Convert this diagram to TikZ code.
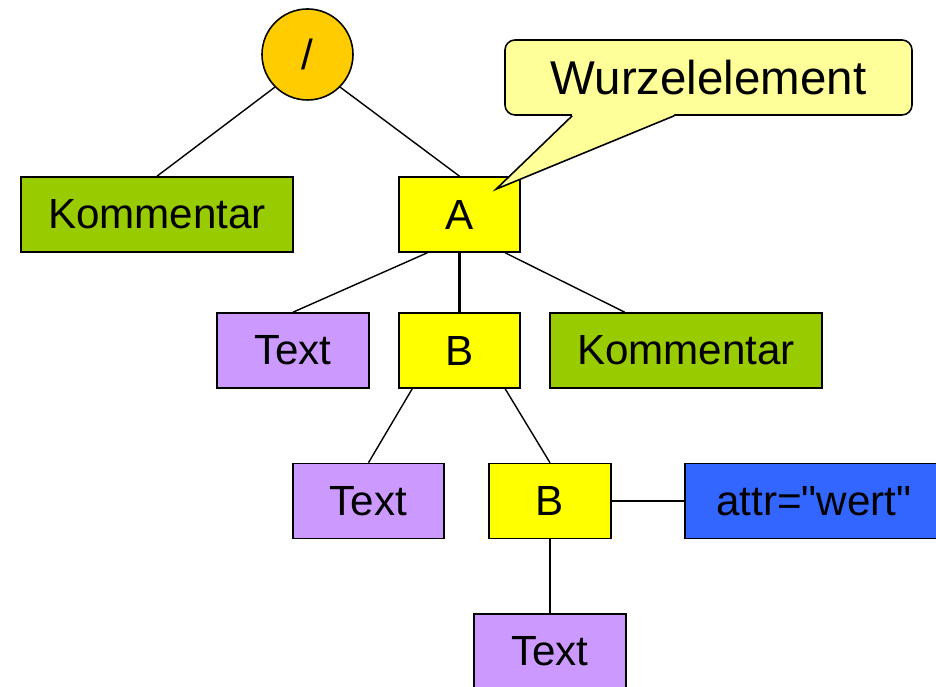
\documentclass[tikz,border=0pt]{standalone}
\usepackage{fontspec}
\setmainfont{Liberation Sans}[Ligatures=TeXOff]
\usetikzlibrary{calc}
\definecolor{rootorange}{HTML}{FFCC00}
\definecolor{komgreen}{HTML}{99CC00}
\definecolor{elyellow}{HTML}{FFFF00}
\definecolor{textpurple}{HTML}{CC99FF}
\definecolor{attrblue}{HTML}{3366FF}
\definecolor{calloutyellow}{HTML}{FFFF99}
\begin{document}
\begin{tikzpicture}[box/.style={draw=black,line width=0.9pt,fill=#1,minimum height=1.5cm,inner sep=0pt,font=\fontsize{24}{28}\selectfont},
  conn/.style={draw=black,line width=0.8pt}]
\useasboundingbox (0,0) rectangle (18.72,13.74);
\node[circle,draw=black,line width=0.9pt,fill=rootorange,minimum size=1.82cm,inner sep=0pt,font=\fontsize{24}{28}\selectfont] (root) at (6.15,12.65) {/};
\node[box=komgreen,minimum width=5.44cm] (kom1) at (3.14,9.45) {Kommentar};
\node[box=elyellow,minimum width=2.43cm] (elA) at (9.19,9.45) {A};
\node[box=textpurple,minimum width=3.03cm] (text1) at (5.86,6.73) {Text};
\node[box=elyellow,minimum width=2.43cm] (elB1) at (9.19,6.73) {B};
\node[box=komgreen,minimum width=5.44cm] (kom2) at (13.72,6.73) {Kommentar};
\node[box=textpurple,minimum width=3.03cm] (text2) at (7.37,3.72) {Text};
\node[box=elyellow,minimum width=2.43cm] (elB2) at (11,3.72) {B};
\node[box=attrblue,minimum width=5.16cm] (attr) at (16.28,3.72) {attr="wert"};
\node[box=textpurple,minimum width=3.03cm] (text3) at (11,0.71) {Text};
\draw[conn] (root.225) -- (kom1.north);
\draw[conn] (root.315) -- (elA.north);
\draw[conn] (elA.230) -- (text1.north);
\draw[conn,line width=1.4pt] (elA.south) -- (elB1.north);
\draw[conn] (elA.320) -- (kom2.148);
\draw[conn] (elB1.219) -- (text2.north);
\draw[conn] (elB1.320) -- (elB2.north);
\draw[conn] (elB2.east) -- (attr.west);
\draw[conn] (elB2.south) -- (text3.north);
% callout
\node[draw=black,line width=0.9pt,rounded corners=0.2cm,fill=calloutyellow,minimum width=8.14cm,minimum height=1.5cm,inner sep=0pt,font=\fontsize{27}{32}\selectfont] (wurzel) at (14.17,12.19) {Wurzelelement};
\coordinate (tip) at ($(elA.north east)+(-0.5,-0.26)$);
\fill[calloutyellow] ($(wurzel.south west)+(1.36,0.05)$) -- ($(wurzel.south west)+(1.36,0)$) -- (tip) -- ($(wurzel.south west)+(3.4,0)$) -- ($(wurzel.south west)+(3.4,0.05)$) -- cycle;
\draw[line width=0.9pt] ($(wurzel.south west)+(1.36,0)$) -- (tip) -- ($(wurzel.south west)+(3.4,0)$);
\end{tikzpicture}
\end{document}
